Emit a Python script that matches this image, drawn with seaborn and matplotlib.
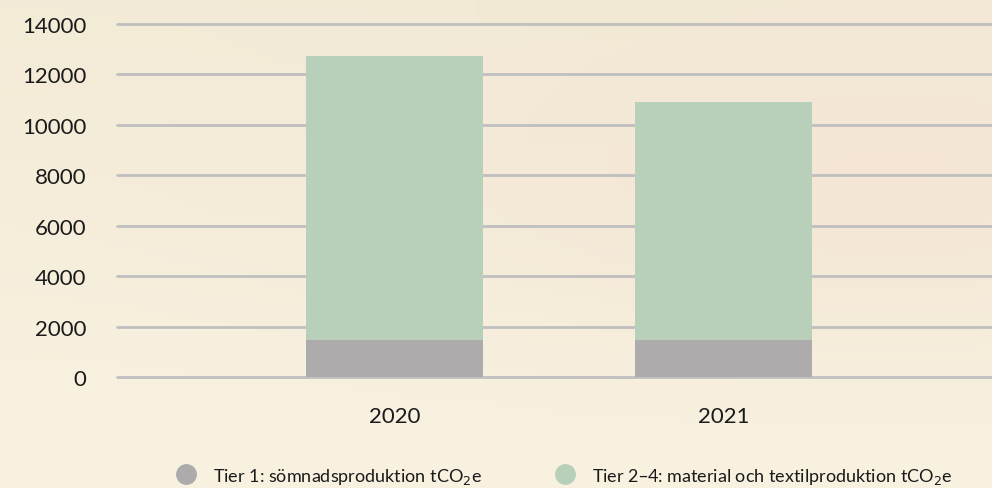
import numpy as np
import pandas as pd
import matplotlib
matplotlib.use("Agg")
import matplotlib.pyplot as plt
from matplotlib.lines import Line2D
import seaborn as sns

# data
years = ["2020", "2021"]
tier1 = [1470, 1470]
tier2_4 = [11260, 9440]
labels = ["Tier 1: sömnadsproduktion tCO$_2$e",
          "Tier 2–4: material och textilproduktion tCO$_2$e"]
colors = ["#ADABAC", "#B8CFBA"]

df = pd.DataFrame({"year": years, "tier1": tier1, "tier2_4": tier2_4})
df["total"] = df["tier1"] + df["tier2_4"]

sns.set_theme(style="white")
plt.rcParams["font.family"] = ["Lato", "DejaVu Sans"]

fig = plt.figure(figsize=(9.92, 4.89), dpi=100)

# soft beige background
bg = fig.add_axes([0, 0, 1, 1], zorder=-10)
gx, gy = np.meshgrid(np.linspace(0, 1, 200), np.linspace(0, 1, 100))
c_top = np.array([242, 235, 214]) / 255
c_pink = np.array([244, 228, 212]) / 255
c_bot = np.array([249, 242, 225]) / 255
w_pink = np.clip(np.exp(-((gx - 0.9) ** 2 / 0.25 + (gy - 0.35) ** 2 / 0.12)), 0, 1)[..., None]
base = c_top * (1 - gy[..., None]) + c_bot * gy[..., None]
img = base * (1 - 0.8 * w_pink) + c_pink * 0.8 * w_pink
bg.imshow(img, aspect="auto", extent=[0, 1, 0, 1])
bg.axis("off")

ax = fig.add_axes([0.118, 0.227, 0.882, 0.722])
ax.set_facecolor("none")

sns.barplot(data=df, x="year", y="total", color=colors[1], width=0.54,
            saturation=1, linewidth=0, ax=ax, zorder=3)
sns.barplot(data=df, x="year", y="tier1", color=colors[0], width=0.54,
            saturation=1, linewidth=0, ax=ax, zorder=3)

ax.set_ylim(0, 14000)
ax.set_xlim(-0.843, 1.816)
ax.set_yticks(range(0, 14001, 2000))
ax.yaxis.grid(True, color="#BFBFBF", linewidth=2, zorder=0)
for gl in ax.get_ygridlines():
    gl.set_clip_on(False)
ax.set_xlabel("")
ax.set_ylabel("")
sns.despine(ax=ax, left=True, bottom=True)
ax.tick_params(axis="y", length=0, pad=22, labelsize=16, labelcolor="#1a1a1a")
ax.tick_params(axis="x", length=0, pad=21, labelsize=16, labelcolor="#1a1a1a")

handles = [Line2D([0], [0], marker="o", linestyle="", markersize=14,
                  markerfacecolor=c, markeredgecolor=c) for c in colors]
fig.legend(handles, labels, loc="center", bbox_to_anchor=(0.565, 0.025),
           ncol=2, frameon=False, fontsize=13, handletextpad=0.5,
           columnspacing=3.6, labelcolor="#1a1a1a")

fig.savefig("out.png", dpi=100)
